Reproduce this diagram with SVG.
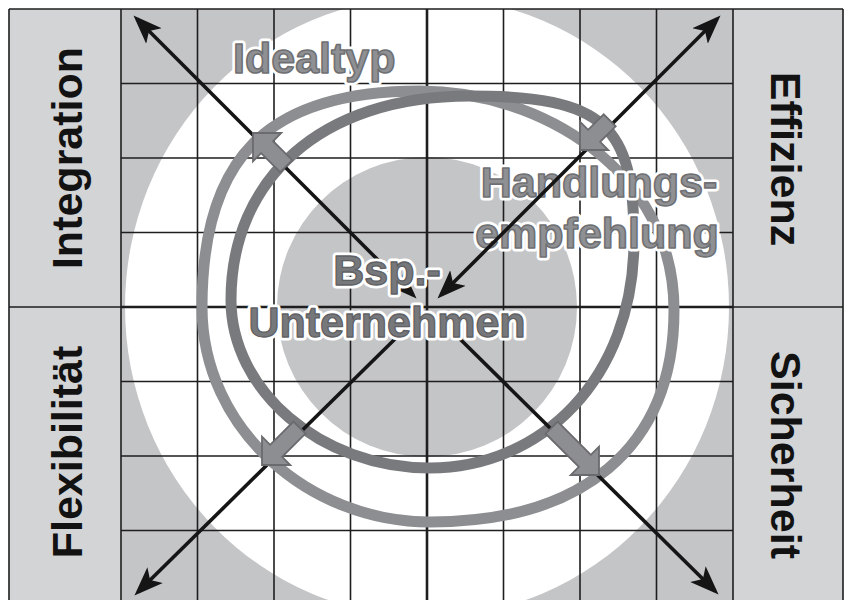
<svg xmlns="http://www.w3.org/2000/svg" width="849" height="600" viewBox="0 0 849 600">
  <style>
    .grid { stroke: #1e1e1e; stroke-width: 1.6; fill: none; }
    .axis { stroke: #1e1e1e; stroke-width: 2.6; fill: none; }
    .side { font-family: "Liberation Sans", Arial, sans-serif; font-weight: bold; font-size: 43px; fill: #121212; text-anchor: middle; }
    .lbl { font-family: "Liberation Sans", Arial, sans-serif; font-weight: bold; font-size: 43px; }
    .halo { fill: #ffffff; stroke: #ffffff; stroke-width: 7; stroke-linejoin: round; }
    .light { fill: #8f9093; stroke: #6f7073; stroke-width: 1.6; stroke-linejoin: round; }
    .dark { fill: #77787b; stroke: #606164; stroke-width: 1.3; stroke-linejoin: round; }
    .ringA { fill: none; stroke: #8d8e91; stroke-width: 11; }
    .ringB { fill: none; stroke: #797a7d; stroke-width: 11; }
    .diag { stroke: #151515; stroke-width: 3.6; fill: none; }
    .block { fill: #8d8e91; stroke: #6a6b6e; stroke-width: 1.8; stroke-linejoin: miter; }
  </style>
  <defs>
    <clipPath id="gridclip"><rect x="121" y="9" width="612" height="596"/></clipPath>
    <marker id="ah" markerUnits="userSpaceOnUse" markerWidth="30" markerHeight="24" refX="24" refY="12" orient="auto-start-reverse" viewBox="0 0 30 24">
      <path d="M0,1 L29,12 L0,23 L7,12 Z" fill="#151515"/>
    </marker>
  </defs>

  <rect x="0" y="0" width="849" height="600" fill="#ffffff"/>

  <g id="background">
    <rect x="9" y="9" width="112" height="600" fill="#d3d4d6"/>
    <rect x="733" y="9" width="110" height="600" fill="#d3d4d6"/>
    <rect x="121" y="9" width="612" height="600" fill="#c4c5c7"/>
    <g clip-path="url(#gridclip)">
      <ellipse cx="427" cy="307" rx="302" ry="310" fill="#ffffff"/>
      <circle cx="427" cy="307" r="150" fill="#c4c5c7"/>
    </g>
  </g>

  <g id="grid">
    <path class="grid" d="M197.5,9V600 M274,9V600 M350.5,9V600 M503.5,9V600 M580,9V600 M656.5,9V600
      M121,83.5H733 M121,158H733 M121,232.5H733 M121,381.5H733 M121,456H733 M121,530.5H733"/>
    <path class="grid" d="M9,9H843 M9,9V600 M121,9V600 M733,9V600 M843,9V600 M9,307H121 M733,307H843"/>
    <path class="axis" d="M427,9V600 M121,307H733"/>
  </g>

  <g id="side-labels">
    <text id="integration" class="side" transform="translate(82,158) rotate(-90)">Integration</text>
    <text id="flexibilitaet" class="side" transform="translate(82,452) rotate(-90)">Flexibilität</text>
    <text id="effizienz" class="side" transform="translate(771,159) rotate(90)">Effizienz</text>
    <text id="sicherheit" class="side" transform="translate(771,455) rotate(90)">Sicherheit</text>
  </g>

  <g id="ring-idealtyp">
    <path class="ringA" d="M420,91 C540,91 674,170 674,310 C674,450 580,522 430,522 C310,522 202,430 202,307 C202,160 265,91 420,91 Z"/>
  </g>
  <g id="ring-bsp">
    <path class="ringB" d="M470,96 C605,96 634,125 634,240 C634,380 540,468 430,468 C320,468 231,390 231,300 C231,180 320,96 470,96 Z"/>
  </g>

  <g id="label-idealtyp">
    <text class="lbl halo" x="233" y="73">Idealtyp</text>
    <text class="lbl light" x="233" y="73">Idealtyp</text>
  </g>
  <g id="label-handlung">
    <text class="lbl halo" x="599" y="197" text-anchor="middle">Handlungs-</text>
    <text class="lbl halo" x="597" y="248" text-anchor="middle">empfehlung</text>
    <text class="lbl light" x="599" y="197" text-anchor="middle">Handlungs-</text>
    <text class="lbl light" x="597" y="248" text-anchor="middle">empfehlung</text>
  </g>

  <g id="connectors">
    <line class="diag" x1="413" y1="295" x2="137" y2="19" marker-start="url(#ah)" marker-end="url(#ah)"/>
    <line class="diag" x1="441" y1="295" x2="717" y2="19" marker-start="url(#ah)" marker-end="url(#ah)"/>
    <line class="diag" x1="396" y1="338" x2="138" y2="592" marker-end="url(#ah)"/>
    <line class="diag" x1="459" y1="338" x2="715" y2="591" marker-end="url(#ah)"/>
  </g>

  <g id="label-bsp">
    <text class="lbl halo" x="387" y="285" text-anchor="middle">Bsp.-</text>
    <text class="lbl halo" x="387" y="337" text-anchor="middle">Unternehmen</text>
    <text class="lbl dark" x="387" y="285" text-anchor="middle">Bsp.-</text>
    <text class="lbl dark" x="387" y="337" text-anchor="middle">Unternehmen</text>
  </g>

  <g id="block-arrows">
    <path class="block" transform="translate(253,133) rotate(225)" d="M0,0 L-20,-20 L-20,-8.5 L-47,-8.5 L-47,8.5 L-20,8.5 L-20,20 Z"/>
    <path class="block" transform="translate(580,150) rotate(135)" d="M0,0 L-20,-20 L-20,-8.5 L-42,-8.5 L-42,8.5 L-20,8.5 L-20,20 Z"/>
    <path class="block" transform="translate(262,465) rotate(135)" d="M0,0 L-20,-20 L-20,-8.5 L-53,-8.5 L-53,8.5 L-20,8.5 L-20,20 Z"/>
    <path class="block" transform="translate(599,475) rotate(45)" d="M0,0 L-20,-20 L-20,-8.5 L-67,-8.5 L-67,8.5 L-20,8.5 L-20,20 Z"/>
  </g>
</svg>
